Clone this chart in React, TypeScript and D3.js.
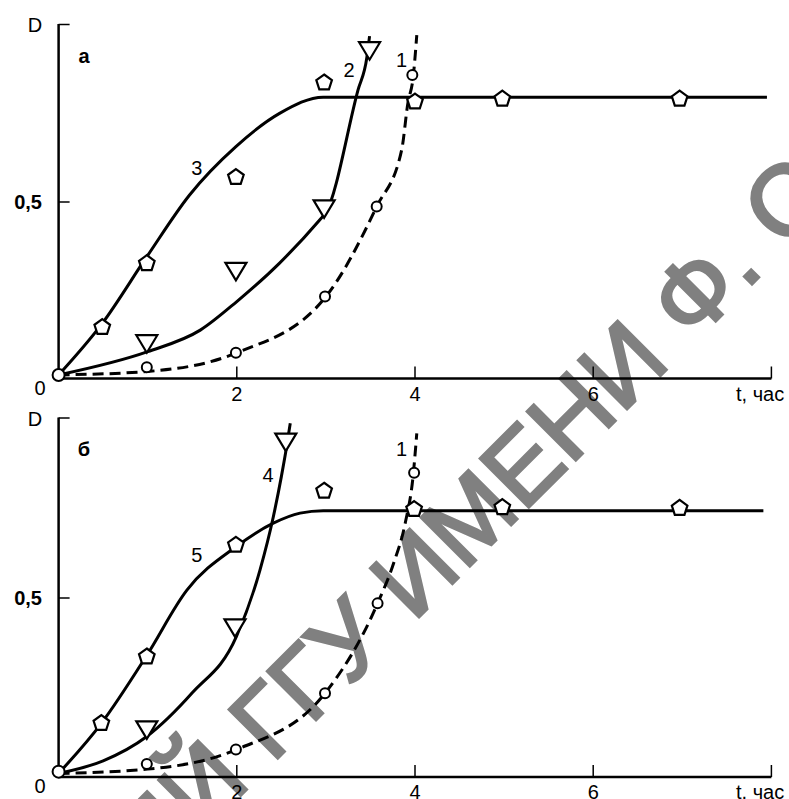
import React from "react";
import * as d3 from "d3";

// ---------- DATA ----------
// x ticks (t, час) and y ticks (D)
const xTickValues = [2, 4, 6, 8];
const xTickLabels = ["2", "4", "6", ""];
const yTickValues = [0.5, 1];
const yTickLabels = ["0,5", ""];

// Panel а
const a_circ1X = [0.99, 1.99, 2.99, 3.57, 3.97];
const a_circ1Y = [0.032, 0.073, 0.232, 0.487, 0.86];
const a_line1X = [0, 1, 2, 3, 3.57, 3.85, 3.92, 3.98, 4.02];
const a_line1Y = [0.01, 0.02, 0.073, 0.232, 0.487, 0.647, 0.78, 0.855, 0.973];

const a_tri2X = [0.99, 1.99, 2.98, 3.49];
const a_tri2Y = [0.1, 0.305, 0.482, 0.93];
const a_line2X = [0, 1, 1.59, 2, 2.48, 2.93, 3.0, 3.36, 3.46, 3.49];
const a_line2Y = [0.01, 0.076, 0.137, 0.218, 0.327, 0.449, 0.47, 0.817, 0.91, 0.97];

const a_pent3X = [0.49, 0.99, 1.99, 2.98, 4.0, 4.98, 6.97];
const a_pent3Y = [0.145, 0.326, 0.57, 0.838, 0.784, 0.792, 0.792];
const a_line3X = [0, 0.49, 0.99, 1.47, 1.99, 2.48, 2.97, 7.95];
const a_line3Y = [0.01, 0.156, 0.345, 0.52, 0.657, 0.751, 0.797, 0.797];

const a_originY = 0.01;

// Panel б
const b_circ1X = [0.99, 1.99, 2.99, 3.58, 3.99];
const b_circ1Y = [0.036, 0.077, 0.234, 0.485, 0.85];
const b_line1X = [0, 1, 2, 2.99, 3.58, 3.76, 3.89, 3.98, 4.02];
const b_line1Y = [0.01, 0.022, 0.077, 0.234, 0.485, 0.597, 0.709, 0.844, 0.96];

const b_tri4X = [0.99, 1.98, 2.55];
const b_tri4Y = [0.133, 0.418, 0.937];
const b_line4X = [0, 0.5, 0.99, 1.5, 1.995, 2.26, 2.41, 2.5, 2.55, 2.6];
const b_line4Y = [0.01, 0.045, 0.113, 0.235, 0.392, 0.578, 0.727, 0.839, 0.909, 0.988];

const b_pent5X = [0.48, 0.99, 1.99, 2.98, 3.99, 4.98, 6.97];
const b_pent5Y = [0.15, 0.336, 0.648, 0.799, 0.748, 0.753, 0.751];
const b_line5X = [0, 0.48, 0.99, 1.44, 1.99, 2.41, 2.71, 2.97, 7.91];
const b_line5Y = [0.01, 0.15, 0.34, 0.522, 0.643, 0.709, 0.737, 0.744, 0.744];

const b_originY = 0.015;

// curve labels: [text, x, y] in data units
const a_labels: [string, number, number][] = [
  ["3", 1.55, 0.596],
  ["2", 3.26, 0.874],
  ["1", 3.85, 0.902],
];
const b_labels: [string, number, number][] = [
  ["5", 1.55, 0.62],
  ["4", 2.35, 0.844],
  ["1", 3.85, 0.916],
];

const watermarkBefore = "РЕПОЗИТОРИЙ ГГУ ИМЕНИ";
const watermarkAfter = "Ф. СКОРИНЫ";

// ---------- LAYOUT ----------
const W = 789;
const H = 799;
const FONT = "'Liberation Sans', Arial, Helvetica, sans-serif";
const FS = 20;

const xScale = d3.scaleLinear().domain([0, 8]).range([58.6, 771.4]);

const zip = (xs: number[], ys: number[]) => xs.map((x, i) => [x, ys[i]] as [number, number]);

function pentagonPath(r: number) {
  const pts = d3.range(5).map((k) => {
    const a = ((-90 + 72 * k) * Math.PI) / 180;
    return [r * Math.cos(a), r * Math.sin(a)];
  });
  return "M" + pts.map((p) => p.join(",")).join("L") + "Z";
}
const PENT = pentagonPath(8.2);
const TRI = "M-10.5,-8L10.5,-8L0,9.5Z";

type PanelProps = {
  y0: number;
  y1: number;
  panelLabel: string;
  circX: number[];
  circY: number[];
  line1X: number[];
  line1Y: number[];
  triX: number[];
  triY: number[];
  lineTX: number[];
  lineTY: number[];
  pentX: number[];
  pentY: number[];
  linePX: number[];
  linePY: number[];
  originY: number;
  labels: [string, number, number][];
};

function Panel(p: PanelProps) {
  const yScale = d3.scaleLinear().domain([0, 1]).range([p.y0, p.y1]);
  const line = d3
    .line<[number, number]>()
    .x((d) => xScale(d[0]))
    .y((d) => yScale(d[1]))
    .curve(d3.curveMonotoneX);
  const xAxisY = yScale(0);
  const x0 = xScale(0);
  return (
    <g>
      {/* curves */}
      <path d={line(zip(p.linePX, p.linePY)) || ""} fill="none" stroke="#000" strokeWidth={3} />
      <path d={line(zip(p.lineTX, p.lineTY)) || ""} fill="none" stroke="#000" strokeWidth={3} />
      <path
        d={line(zip(p.line1X, p.line1Y)) || ""}
        fill="none"
        stroke="#000"
        strokeWidth={3}
        strokeDasharray="11,6"
      />
      {/* axes */}
      <line x1={x0} x2={x0} y1={yScale(1) - 1.5} y2={xAxisY} stroke="#000" strokeWidth={2.5} />
      <line x1={x0} x2={xScale(8)} y1={xAxisY} y2={xAxisY} stroke="#000" strokeWidth={2.5} />
      {yTickValues.map((v, i) => (
        <g key={"yt" + i}>
          <line x1={x0} x2={x0 + 11} y1={yScale(v) - (v === 1 ? 1 : 0)} y2={yScale(v) - (v === 1 ? 1 : 0)} stroke="#000" strokeWidth={1.5} />
          {yTickLabels[i] && (
            <text
              x={42}
              y={yScale(v)}
              textAnchor="end"
              dominantBaseline="central"
              fontFamily={FONT}
              fontSize={FS}
              fontWeight="bold"
            >
              {yTickLabels[i]}
            </text>
          )}
        </g>
      ))}
      {xTickValues.map((v, i) => (
        <g key={"xt" + i}>
          <line x1={xScale(v)} x2={xScale(v)} y1={xAxisY} y2={xAxisY - 12} stroke="#000" strokeWidth={1.5} />
          {xTickLabels[i] && (
            <text x={xScale(v)} y={xAxisY + 22} textAnchor="middle" fontFamily={FONT} fontSize={FS}>
              {xTickLabels[i]}
            </text>
          )}
        </g>
      ))}
      <text x={40} y={xAxisY + 9} textAnchor="middle" dominantBaseline="central" fontFamily={FONT} fontSize={FS}>
        0
      </text>
      <text x={35} y={yScale(1) - 0.5} textAnchor="middle" dominantBaseline="central" fontFamily={FONT} fontSize={FS}>
        D
      </text>
      <text x={736} y={xAxisY + 22} fontFamily={FONT} fontSize={FS}>
        t, час
      </text>
      <text
        x={xScale(0.285)}
        y={yScale(0.915)}
        textAnchor="middle"
        dominantBaseline="central"
        fontFamily={FONT}
        fontSize={FS}
        fontWeight="bold"
      >
        {p.panelLabel}
      </text>
      {p.labels.map(([t, x, y], i) => (
        <text
          key={"l" + i}
          x={xScale(x)}
          y={yScale(y)}
          textAnchor="middle"
          dominantBaseline="central"
          fontFamily={FONT}
          fontSize={FS}
        >
          {t}
        </text>
      ))}
      {/* markers */}
      {p.circX.map((x, i) => (
        <circle key={"c" + i} cx={xScale(x)} cy={yScale(p.circY[i])} r={5} fill="#fff" stroke="#000" strokeWidth={2} />
      ))}
      {p.triX.map((x, i) => (
        <path
          key={"t" + i}
          d={TRI}
          transform={`translate(${xScale(x)},${yScale(p.triY[i])})`}
          fill="#fff"
          stroke="#000"
          strokeWidth={2.2}
          strokeLinejoin="miter"
        />
      ))}
      {p.pentX.map((x, i) => (
        <path
          key={"p" + i}
          d={PENT}
          transform={`translate(${xScale(x)},${yScale(p.pentY[i])})`}
          fill="#fff"
          stroke="#000"
          strokeWidth={2.2}
        />
      ))}
      <circle cx={xScale(0)} cy={yScale(p.originY)} r={6} fill="#fff" stroke="#000" strokeWidth={2} />
    </g>
  );
}

function Watermark() {
  return (
    <g
      transform="translate(672,364) rotate(-45)"
      fill="#808080"
      stroke="#808080"
      strokeWidth={3}
      fontFamily={FONT}
      fontSize={100}
    >
      <text x={0} y={0} textAnchor="end">
        {watermarkBefore}
      </text>
      <text x={28} y={0} textAnchor="start">
        {watermarkAfter}
      </text>
    </g>
  );
}

export default function App() {
  return (
    <svg
      width={W}
      height={H}
      viewBox={`0 0 ${W} ${H}`}
      style={{ position: "absolute", left: 0, top: 0, background: "#fff" }}
    >
      <rect x={0} y={0} width={W} height={H} fill="#fff" />
      <Watermark />
      <Panel
        y0={378.5}
        y1={25.5}
        panelLabel="а"
        circX={a_circ1X}
        circY={a_circ1Y}
        line1X={a_line1X}
        line1Y={a_line1Y}
        triX={a_tri2X}
        triY={a_tri2Y}
        lineTX={a_line2X}
        lineTY={a_line2Y}
        pentX={a_pent3X}
        pentY={a_pent3Y}
        linePX={a_line3X}
        linePY={a_line3Y}
        originY={a_originY}
        labels={a_labels}
      />
      <Panel
        y0={777}
        y1={419}
        panelLabel="б"
        circX={b_circ1X}
        circY={b_circ1Y}
        line1X={b_line1X}
        line1Y={b_line1Y}
        triX={b_tri4X}
        triY={b_tri4Y}
        lineTX={b_line4X}
        lineTY={b_line4Y}
        pentX={b_pent5X}
        pentY={b_pent5Y}
        linePX={b_line5X}
        linePY={b_line5Y}
        originY={b_originY}
        labels={b_labels}
      />
    </svg>
  );
}
